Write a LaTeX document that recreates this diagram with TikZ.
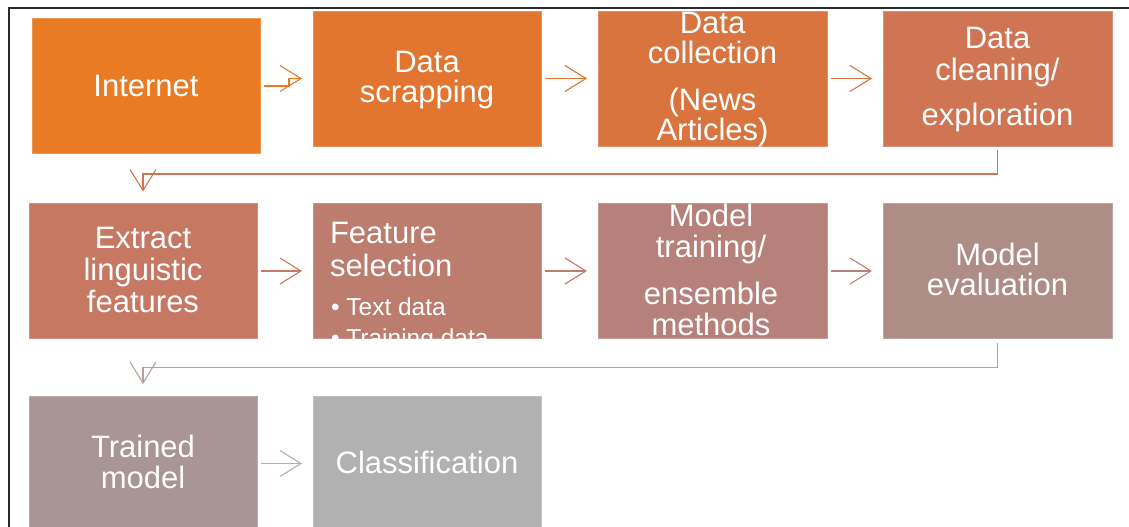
\documentclass[tikz,border=0pt]{standalone}
\usepackage{fontspec}
\setmainfont{Liberation Sans}
\usetikzlibrary{arrows.meta,calc}
\definecolor{cInt}{HTML}{E97B25}
\definecolor{cScr}{HTML}{E2752F}
\definecolor{cCol}{HTML}{D9743F}
\definecolor{cCln}{HTML}{CF7553}
\definecolor{cExt}{HTML}{C67862}
\definecolor{cFea}{HTML}{BC7C6E}
\definecolor{cTrn}{HTML}{B6817A}
\definecolor{cEva}{HTML}{AF8D87}
\definecolor{cTmd}{HTML}{A89594}
\definecolor{cCls}{HTML}{B1B1B2}
\definecolor{cEvaArr}{HTML}{B9A0A0}
\definecolor{cTmdArr}{HTML}{B8AEAE}
\definecolor{frameCol}{HTML}{2A2A2A}
\begin{document}
\begin{tikzpicture}[x=1pt,y=-1pt,
  stepbox/.style={fill=#1, draw=#1!80!white, line width=0.6pt, inner sep=0pt, outer sep=0pt,
                  minimum width=228pt, minimum height=135pt},
  txt/.style={text=white, anchor=base, align=center, inner sep=0pt, outer sep=0pt},
  arr/.style={draw=#1, line width=1.1pt, -{Straight Barb[length=21pt,width=26pt,line width=1.1pt]}}
]
\useasboundingbox (0,0) rectangle (1129,527);
% frame
\draw[frameCol, line width=2pt] (8.5,530) -- (8.5,8) -- (1130,8);

% boxes
\node[stepbox=cInt] (internet) at (146,85.5) {};
\node[stepbox=cScr] (scrap) at (427,78.5) {};
\node[stepbox=cCol, minimum width=229pt] (collect) at (712.5,78.5) {};
\node[stepbox=cCln, minimum width=229pt] (clean) at (997.5,78.5) {};
\node[stepbox=cExt] (extract) at (143,271) {};
\node[stepbox=cFea] (feature) at (427,271) {};
\node[stepbox=cTrn, minimum width=229pt] (training) at (712.5,271) {};
\node[stepbox=cEva, minimum width=229pt] (evaluation) at (997.5,271) {};
\node[stepbox=cTmd] (trained) at (143,463.5) {};
\node[stepbox=cCls] (classif) at (427,463.5) {};

% texts (anchor=base is the baseline of the last line)
\node[txt, font=\fontsize{31}{31}\selectfont] (internetT) at (146,96) {Internet};
\node[txt, font=\fontsize{31}{30}\selectfont] (scrapT) at (427,102) {Data\\scrapping};
\begin{scope}
  \clip (collect.north west) rectangle (collect.south east);
  \node[txt, font=\fontsize{31}{30}\selectfont] (collectT) at (712.5,140) {Data\\collection\\[17pt](News\\Articles)};
\end{scope}
\node[txt, font=\fontsize{31}{32}\selectfont] (cleanT) at (997.5,125) {Data\\cleaning/\\[13pt]exploration};
\node[txt, font=\fontsize{31}{32}\selectfont] (extractT) at (143,312) {Extract\\linguistic\\features};
\begin{scope}
  \clip (feature.north west) rectangle (feature.south east);
  \node[txt, anchor=base west, align=left, font=\fontsize{31}{33}\selectfont] (featureT) at (330,276) {Feature\\selection};
  \node[txt, anchor=base west, align=left, font=\fontsize{24.5}{31}\selectfont] (featureB) at (331,346) {\textbullet\ Text data\\\textbullet\ Training data};
\end{scope}
\begin{scope}
  \clip (training.north west) rectangle (training.south east);
  \node[txt, font=\fontsize{31}{31}\selectfont] (trainingT) at (711,335) {Model\\training/\\[16pt]ensemble\\methods};
\end{scope}
\node[txt, font=\fontsize{31}{30}\selectfont] (evaluationT) at (997.5,295) {Model\\evaluation};
\node[txt, font=\fontsize{31}{31}\selectfont] (trainedT) at (143,488) {Trained\\model};
\node[txt, font=\fontsize{31}{30}\selectfont] (classifT) at (427,473) {Classification};

% connectors row 1
\draw[arr=cInt] ($(internet.east)+(4,0.5)$) -- ++(25,0) |- ($(scrap.west)+(-11,0)$);
\draw[arr=cScr] ($(scrap.east)+(4,0)$) -- ($(collect.west)+(-11,0)$);
\draw[arr=cCol] ($(collect.east)+(4,0)$) -- ($(clean.west)+(-11,0)$);
\draw[arr=cCln] ($(clean.south)+(0,4)$) -- ++(0,24) -| ($(extract.north)+(0,-12)$);
% row 2
\draw[arr=cExt] ($(extract.east)+(4,0)$) -- ($(feature.west)+(-11,0)$);
\draw[arr=cFea] ($(feature.east)+(4,0)$) -- ($(training.west)+(-11,0)$);
\draw[arr=cTrn] ($(training.east)+(4,0)$) -- ($(evaluation.west)+(-11,0)$);
\draw[arr=cEvaArr] ($(evaluation.south)+(0,4)$) -- ++(0,25) -| ($(trained.north)+(0,-12)$);
% row 3
\draw[arr=cTmdArr] ($(trained.east)+(4,0)$) -- ($(classif.west)+(-11,0)$);
\end{tikzpicture}
\end{document}
